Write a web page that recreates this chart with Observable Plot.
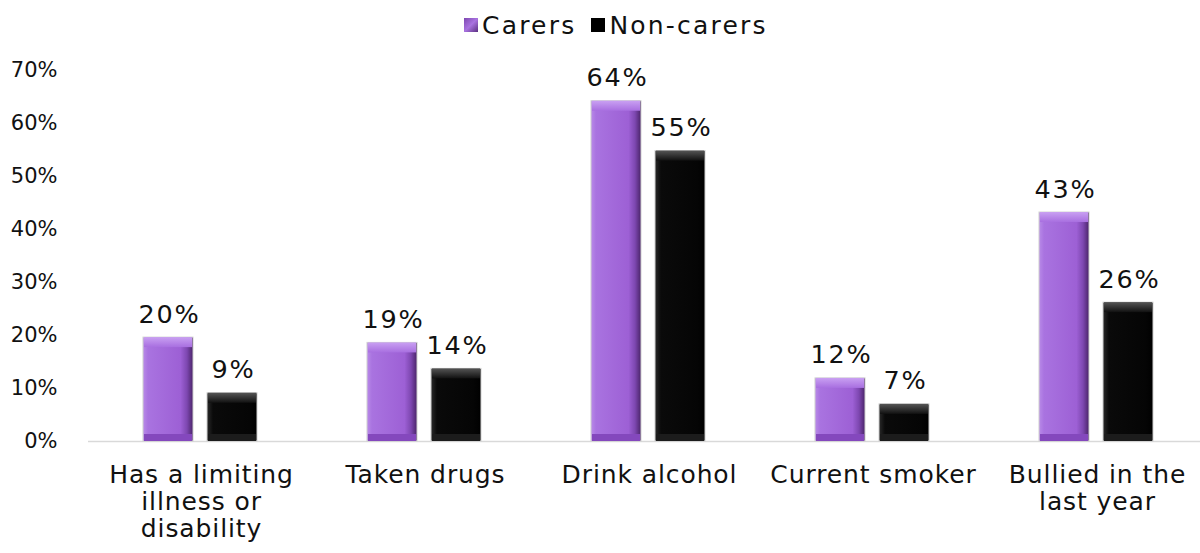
<!DOCTYPE html>
<html><head><meta charset="utf-8">
<script src="https://cdn.jsdelivr.net/npm/d3@7"></script>
<script src="https://cdn.jsdelivr.net/npm/@observablehq/plot@0.6"></script>
<style>
body{margin:0;background:#fff;font-family:"DejaVu Sans",Verdana,sans-serif;overflow:hidden;}
#legend{height:50px;display:flex;align-items:center;padding-left:464px;font-size:25px;letter-spacing:2.2px;color:#111;box-sizing:border-box;}
#legend .sw{width:14px;height:14px;display:inline-block;margin-right:4px;}
#legend .item{display:flex;align-items:center;margin-right:15px;}
#chart g[aria-label="fx-axis tick label"] text{letter-spacing:0.9px;}
#chart g[aria-label="text"] text{letter-spacing:1.8px;}
#chart text{fill:#111;}
</style></head>
<body>
<svg width="0" height="0" style="position:absolute">
<defs>
<linearGradient id="gP" x1="0" x2="1" y1="0" y2="0">
 <stop offset="0" stop-color="#b98be8"/>
 <stop offset="0.1" stop-color="#a973e0"/>
 <stop offset="0.75" stop-color="#9d60d5"/>
 <stop offset="0.88" stop-color="#7d47b0"/>
 <stop offset="1" stop-color="#4a2468"/>
</linearGradient>
<linearGradient id="gK" x1="0" x2="1" y1="0" y2="0">
 <stop offset="0" stop-color="#2a2a2a"/>
 <stop offset="0.12" stop-color="#0a0a0a"/>
 <stop offset="0.85" stop-color="#050505"/>
 <stop offset="1" stop-color="#000"/>
</linearGradient>
<linearGradient id="gPt" x1="0" x2="0" y1="0" y2="1">
 <stop offset="0" stop-color="#c9a0f2"/>
 <stop offset="1" stop-color="#a86fe0"/>
</linearGradient>
<linearGradient id="gKt" x1="0" x2="0" y1="0" y2="1">
 <stop offset="0" stop-color="#555"/>
 <stop offset="1" stop-color="#111"/>
</linearGradient>
</defs>
</svg>
<div id="legend">
 <span class="item"><span class="sw" style="background:linear-gradient(135deg,#7d47b0,#a973e0 50%,#5a2f80)"></span>Carers</span>
 <span class="item"><span class="sw" style="background:#000"></span>Non-carers</span>
</div>
<div id="chart"></div>
<script>
const categories = ["Has a limiting\nillness or\ndisability", "Taken drugs", "Drink alcohol", "Current smoker", "Bullied in the\nlast year"];
const series = ["Carers", "Non-carers"];
const carers = [19.6, 18.6, 64.2, 11.9, 43.2];
const nonCarers = [9.1, 13.7, 54.8, 7.0, 26.2];
const yTicks = [0, 10, 20, 30, 40, 50, 60, 70];

const data = [];
categories.forEach((c, i) => {
  data.push({category: c, series: "Carers", value: carers[i]});
  data.push({category: c, series: "Non-carers", value: nonCarers[i]});
});
const isC = d => d.series === "Carers";
const isN = d => d.series === "Non-carers";

const chart = Plot.plot({
  width: 1200,
  height: 503,
  marginLeft: 88,
  marginRight: -8,
  marginTop: 20,
  marginBottom: 112,
  style: {fontFamily: "'DejaVu Sans', Verdana, sans-serif", color: "#111", background: "#fff"},
  fx: {domain: categories, padding: 0},
  x: {domain: series, paddingInner: 0.21875, paddingOuter: 0.859, axis: null},
  y: {domain: [0, 70], axis: null},
  marks: [
    Plot.ruleY([0], {stroke: "#d9d9d9", strokeWidth: 1.5}),
    Plot.barY(data, {filter: isC, fx: "category", x: "series", y: "value", fill: "url(#gP)", stroke: "#cfcfcf", strokeWidth: 1}),
    Plot.barY(data, {filter: isN, fx: "category", x: "series", y: "value", fill: "url(#gK)", stroke: "#cfcfcf", strokeWidth: 1}),
    Plot.barY(data, {filter: isC, fx: "category", x: "series", y1: "value", y2: "value", insetBottom: -10, insetLeft: 1, insetRight: 1, fill: "url(#gPt)"}),
    Plot.barY(data, {filter: isN, fx: "category", x: "series", y1: "value", y2: "value", insetBottom: -10, insetLeft: 1, insetRight: 1, fill: "url(#gKt)"}),
    Plot.barY(data, {filter: isC, fx: "category", x: "series", y1: 0, y2: 0, insetTop: -7, insetLeft: 1, insetRight: 1, fill: "#8448bd"}),
    Plot.barY(data, {filter: isN, fx: "category", x: "series", y1: 0, y2: 0, insetTop: -7, insetLeft: 1, insetRight: 1, fill: "#1c1c1c"}),
    Plot.text(data, {fx: "category", x: "series", y: "value", text: d => Math.round(d.value) + "%", lineAnchor: "bottom", dy: -15, dx: 1, fontSize: 25.5}),
    Plot.axisY({ticks: yTicks, tickFormat: d => d + "%", tickSize: 0, tickPadding: 31, fontSize: 21, label: null}),
    Plot.axisFx({anchor: "bottom", tickSize: 0, tickPadding: 22, dx: 1, fontSize: 25, lineHeight: 1.08, label: null})
  ]
});
document.getElementById("chart").appendChild(chart);
</script>
</body></html>
